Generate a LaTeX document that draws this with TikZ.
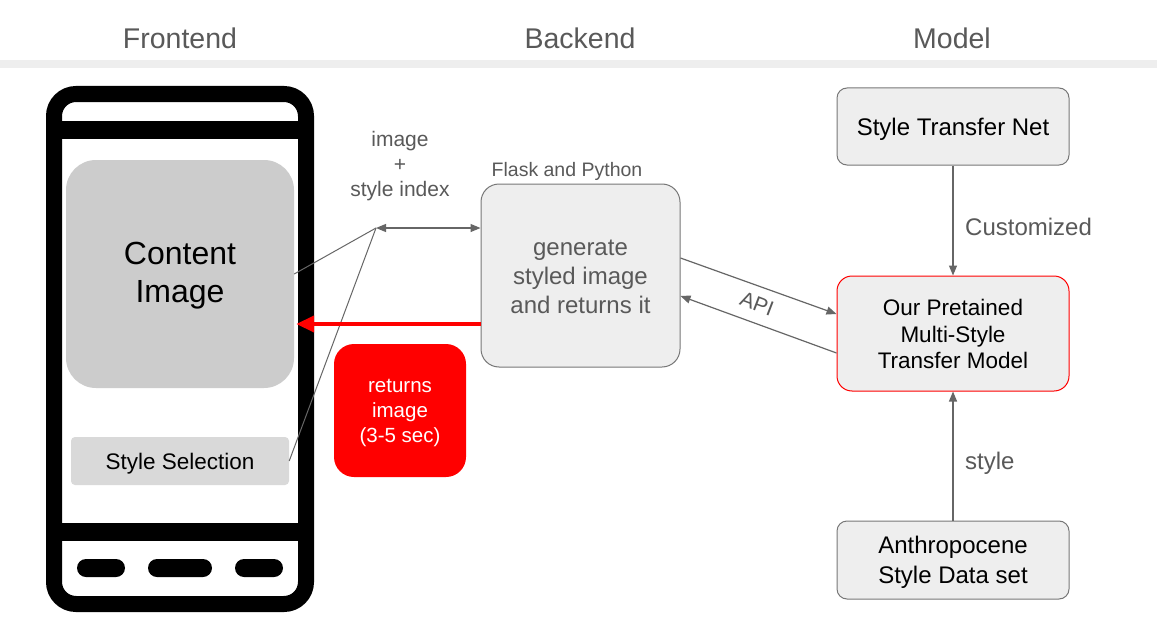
\documentclass[tikz,border=0pt]{standalone}
\usepackage{fontspec}
\setmainfont{Liberation Sans}
\usetikzlibrary{arrows.meta,calc}
\definecolor{txtgray}{HTML}{595959}
\definecolor{linegray}{HTML}{666666}
\definecolor{boxfill}{HTML}{EEEEEE}
\definecolor{boxline}{HTML}{777777}
\definecolor{contentgray}{HTML}{CCCCCC}
\definecolor{selgray}{HTML}{D9D9D9}
\definecolor{barfill}{HTML}{EEEEEE}
\begin{document}
\begin{tikzpicture}[x=1pt,y=-1pt,
  header/.style={text=txtgray,font=\fontsize{28.5}{34}\selectfont,inner sep=0},
  modelbox/.style={draw=boxline,fill=boxfill,line width=1pt,rounded corners=10pt,minimum width=232pt,inner sep=0},
  boxtext/.style={inner sep=0,align=center},
  conn/.style={draw=linegray,line width=1.2pt,-{Triangle[length=10pt,width=8pt]}},
  plain/.style={draw=linegray,line width=1pt},
  glabel/.style={text=txtgray,inner sep=0,align=center}]
\useasboundingbox (0,0) rectangle (1157,642);
\fill[white] (0,0) rectangle (1157,642);
% header
\fill[barfill] (0,60) rectangle (1157,68);
\node[header] (hfront) at (180,38) {Frontend};
\node[header] (hback) at (580,38) {Backend};
\node[header] (hmodel) at (952,38) {Model};
% phone
\draw[line width=16pt,rounded corners=22pt] (54,94) rectangle (306,604);
\fill (62,121) rectangle (299,139);
\fill (62,523) rectangle (299,541);
\fill[rounded corners=9pt] (77,559) rectangle (125,577);
\fill[rounded corners=9pt] (148,559) rectangle (212,577);
\fill[rounded corners=9pt] (235,559) rectangle (283,577);
% content image
\node[fill=contentgray,rounded corners=30pt,minimum width=228pt,minimum height=228pt,inner sep=0] (content) at (180,274) {};
\node[boxtext,font=\fontsize{32}{38}\selectfont] (contenttxt) at ([yshift=-1.5pt]content.center) {Content\\Image};
\node[fill=selgray,rounded corners=4pt,minimum width=218pt,minimum height=48pt,inner sep=0] (sel) at (180,461) {};
\node[boxtext,font=\fontsize{22.5}{27}\selectfont] (seltxt) at ([yshift=-2.5pt]sel.center) {Style Selection};
% backend
\node[draw=boxline,fill=boxfill,line width=1pt,rounded corners=18pt,minimum width=199pt,minimum height=183pt,
  inner sep=0] (flask) at (580.5,275.5) {};
\node[boxtext,text=txtgray,font=\fontsize{24}{29}\selectfont] (flasktxt) at ([yshift=-1pt]flask.center)
  {generate\\styled image\\and returns it};
\node[glabel,font=\fontsize{19.5}{24}\selectfont] (flasklbl) at (567,171) {Flask and Python};
\node[glabel,font=\fontsize{21}{25}\selectfont] (imglbl) at (400,166.5) {image\\+\\style index};
\coordinate (j) at (376,228);
\draw[plain] (content.east) -- (j);
\draw[plain] (sel.east) -- (j);
\draw[draw=linegray,line width=1.2pt,{Triangle[length=10pt,width=8pt]}-{Triangle[length=10pt,width=8pt]}]
  (j) -- ([yshift=47.5pt]flask.west);
\draw[red,line width=4pt,-{Triangle[length=18pt,width=16pt]}] ([yshift=-48.5pt]flask.west) -- ([yshift=-50pt,xshift=2pt]content.east);
\node[fill=red,rounded corners=20pt,minimum width=132pt,minimum height=133pt,inner sep=0] (ret) at (400,410.5) {};
\node[boxtext,text=white,font=\fontsize{20.5}{25}\selectfont] (rettxt) at ([yshift=-2.5pt]ret.center) {returns\\image\\(3-5 sec)};
% model column
\node[modelbox,minimum height=77pt] (stn) at (953,126.5) {};
\node[boxtext,font=\fontsize{24}{29}\selectfont] (stntxt) at ([yshift=-2.5pt]stn.center) {Style Transfer Net};
\node[modelbox,draw=red,rounded corners=15pt,minimum height=115pt] (model) at (953,333.5) {};
\node[boxtext,font=\fontsize{22.5}{26.5}\selectfont] (modeltxt) at ([yshift=-0.5pt]model.center)
  {Our Pretained\\Multi-Style\\Transfer Model};
\node[modelbox,minimum height=78pt] (anth) at (953,560) {};
\node[boxtext,font=\fontsize{24}{30}\selectfont] (anthtxt) at ([yshift=-2.5pt]anth.center) {Anthropocene\\Style Data set};
\draw[conn] (stn.south) -- (model.north);
\draw[conn] (anth.north) -- (model.south);
\node[glabel,anchor=west,font=\fontsize{24}{29}\selectfont] (cust) at (965,227) {Customized};
\node[glabel,anchor=west,font=\fontsize{24}{29}\selectfont] (stylelbl) at (965,463.5) {style};
% API
\draw[conn] ([yshift=17.5pt]flask.east) -- ([yshift=19.5pt]model.west);
\draw[conn] ([yshift=-19.5pt]model.west) -- ([yshift=-20.5pt]flask.east);
\node[glabel,rotate=-21,font=\fontsize{21}{25}\selectfont] (api) at (757,304) {API};
\end{tikzpicture}
\end{document}
